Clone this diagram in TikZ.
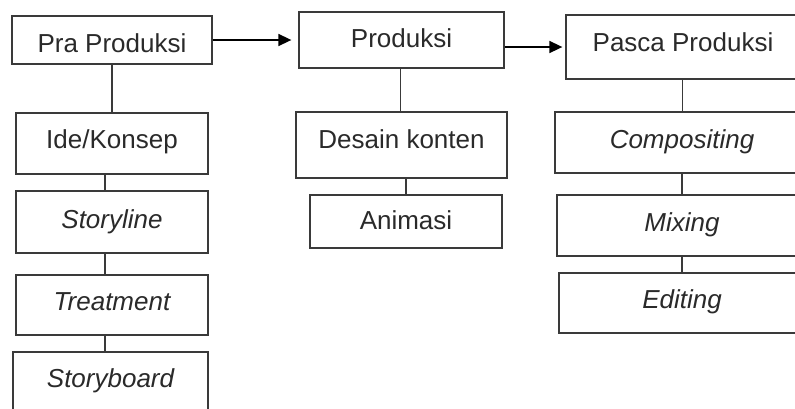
\documentclass[tikz,border=0pt]{standalone}
\usepackage{fontspec}
\setmainfont{Liberation Sans}
\usetikzlibrary{arrows.meta}
\definecolor{ink}{HTML}{2A2A2A}
\definecolor{edge}{HTML}{3A3A3A}
\begin{document}
\begin{tikzpicture}[x=1pt,y=-1pt,
  box/.style={draw=edge, line width=1.3pt, fill=white, inner sep=0pt,
    text=ink, font=\fontsize{26}{30}\selectfont,
    text height=19pt, text depth=7pt},
  link/.style={draw=edge, line width=1.4pt},
  flow/.style={draw=black, line width=1.6pt, -{Triangle[length=13pt,width=12pt]}}]
\useasboundingbox (0,0) rectangle (795,408);
\clip (0,0) rectangle (795,408);
% Pra Produksi column
\node[box, minimum width=200pt, minimum height=48pt, text height=24pt, text depth=0pt] (pra) at (112,40) {Pra Produksi};
\node[box, minimum width=192pt, minimum height=61pt, text depth=10pt] (ide) at (112,143.5) {Ide/Konsep};
\node[box, minimum width=192pt, minimum height=62pt] (story) at (112,222) {\itshape Storyline};
\node[box, minimum width=192pt, minimum height=60pt, text depth=9pt] (treat) at (112,305) {\itshape Treatment};
\node[box, minimum width=195pt, minimum height=64pt, text depth=12pt] (sboard) at (110.5,384) {\itshape Storyboard};
% Produksi column
\node[box, minimum width=205pt, minimum height=56pt, text depth=5pt] (prod) at (401.5,40) {Produksi};
\node[box, minimum width=211pt, minimum height=66pt, text depth=12pt] (desain) at (401.5,145) {Desain konten};
\node[box, minimum width=192pt, minimum height=53pt, text depth=4pt] (anim) at (406,221.5) {Animasi};
% Pasca Produksi column
\node[box, minimum width=234pt, minimum height=64pt, text depth=10pt] (pasca) at (683,47) {Pasca Produksi};
\node[box, minimum width=254pt, minimum height=61pt] (comp) at (682,142.5) {\itshape Compositing};
\node[box, minimum width=250pt, minimum height=61pt] (mix) at (682,225.5) {\itshape Mixing};
\node[box, minimum width=246pt, minimum height=60pt, text depth=9pt] (edit) at (682,303) {\itshape Editing};
% vertical links
\draw[link] (pra.south) -- (ide.north);
\draw[link] ([xshift=-7pt]ide.south) -- ([xshift=-7pt]story.north);
\draw[link] ([xshift=-7pt]story.south) -- ([xshift=-7pt]treat.north);
\draw[link] ([xshift=-7pt]treat.south) -- ([xshift=-5.5pt]sboard.north);
\draw[link] ([xshift=-1pt]prod.south) -- ([xshift=-1pt]desain.north);
\draw[link] (anim.north |- desain.south) -- (anim.north);
\draw[link] ([xshift=-0.5pt]pasca.south) -- ([xshift=0.5pt]comp.north);
\draw[link] (comp.south) -- (mix.north);
\draw[link] (mix.south) -- (edit.north);
% flow arrows
\draw[flow, shorten >=7pt] (pra.east) -- (prod.west);
\draw[flow, shorten >=3pt] (prod.east |- pasca.west) -- (pasca.west);
\end{tikzpicture}
\end{document}
